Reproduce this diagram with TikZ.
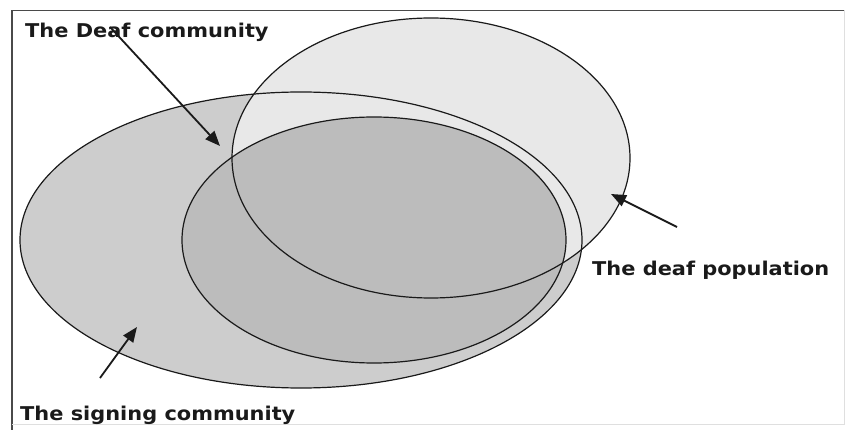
\documentclass[tikz,border=0pt]{standalone}
\usepackage{fontspec}
\setmainfont{DejaVu Sans}
\usetikzlibrary{arrows.meta}
\definecolor{signfill}{HTML}{CDCDCD}
\definecolor{deafcfill}{HTML}{BCBCBC}
\definecolor{popfill}{HTML}{E8E8E8}
\definecolor{framecol}{HTML}{4A4A4A}
\definecolor{inkcol}{HTML}{1A1A1A}
\newcommand{\lbltext}[1]{\scalebox{1.1}[1]{#1}}
\tikzset{
  outline/.style={draw=inkcol, line width=1.2pt},
  pointer/.style={draw=inkcol, line width=1.8pt, -{Triangle[length=15pt,width=12pt]}},
  label/.style={font=\bfseries\fontsize{19}{22}\selectfont, text=inkcol, inner sep=0pt, anchor=base west},
}
\begin{document}
\begin{tikzpicture}[x=1pt,y=-1pt]
\useasboundingbox (0,0) rectangle (845,430);
\fill[white] (0,0) rectangle (845,430);
% frame
\draw[framecol, line width=1.6pt] (12,430) -- (12,10.5) -- (845,10.5);
\draw[gray!25, line width=0.8pt] (12,424) -- (844,424) -- (844,10.5);
% fills
\fill[signfill] (301,240) ellipse [x radius=281pt, y radius=148pt];
\fill[popfill] (431,158) ellipse [x radius=199pt, y radius=140pt];
\fill[deafcfill] (374,240) ellipse [x radius=192pt, y radius=123pt];
% outlines
\path[outline] (301,240) ellipse [x radius=281pt, y radius=148pt];
\path[outline] (431,158) ellipse [x radius=199pt, y radius=140pt];
\path[outline] (374,240) ellipse [x radius=192pt, y radius=123pt];
% labels
\node[label] (deafcom) at (25,38) {\lbltext{The Deaf community}};
\node[label] (deafpop) at (592,275) {\lbltext{The deaf population}};
\node[label] (signcom) at (20,420) {\lbltext{The signing community}};
% arrow ends
\coordinate (t1) at (110,27);
\coordinate (h1) at (220,146);
\coordinate (t2) at (677,227);
\coordinate (h2) at (611,194);
\coordinate (t3) at (100,378);
\coordinate (h3) at (137,327);
\draw[pointer] (t1) -- (h1);
\draw[pointer] (t2) -- (h2);
\draw[pointer] (t3) -- (h3);
\end{tikzpicture}
\end{document}
